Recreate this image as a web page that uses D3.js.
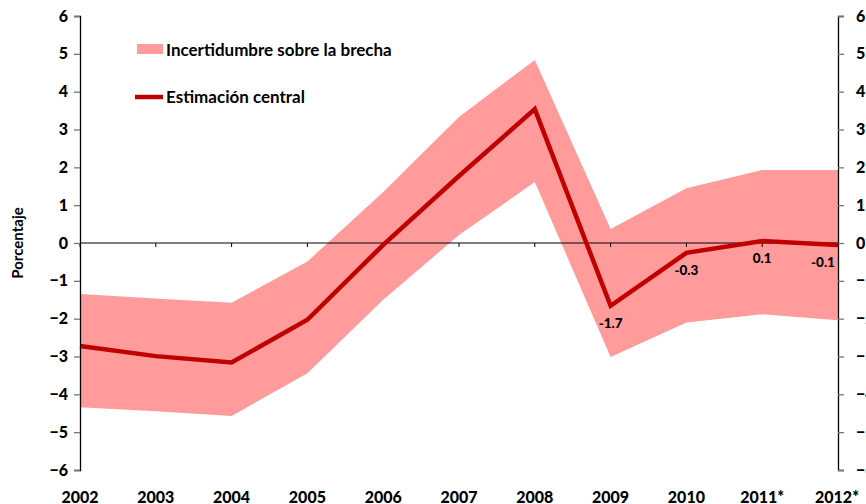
<!DOCTYPE html>
<html><head><meta charset="utf-8">
<script src="https://cdn.jsdelivr.net/npm/d3@7"></script>
<style>body{margin:0;background:#fff}svg{display:block}text{font-family:Lato,"Open Sans",sans-serif;font-weight:bold;fill:#000}</style>
</head><body><svg id="c" width="866" height="504"></svg>
<script>
const years = ["2002","2003","2004","2005","2006","2007","2008","2009","2010","2011*","2012*"];
const central = [-2.72,-2.99,-3.16,-2.03,-0.05,1.77,3.54,-1.66,-0.26,0.05,-0.05];
const upper = [-1.35,-1.47,-1.58,-0.49,1.35,3.33,4.84,0.37,1.45,1.93,1.93];
const lower = [-4.34,-4.45,-4.57,-3.44,-1.50,0.21,1.61,-3.01,-2.10,-1.88,-2.04];
const labelIdx = [7,8,9,10];
const labelText = ["-1.7","-0.3","0.1","-0.1"];
const yTicks = [-6,-5,-4,-3,-2,-1,0,1,2,3,4,5,6];

const svg = d3.select("#c");
const L=80, R=838, T=16, B=470;
const x = d3.scalePoint().domain(years).range([L,R]);
const y = d3.scaleLinear().domain([-6,6]).range([B,T]);

// band
const area = d3.area().x((d,i)=>x(years[i])).y0((d,i)=>y(lower[i])).y1((d,i)=>y(upper[i]));
svg.append("path").datum(upper).attr("d",area).attr("fill","#ff9b9b");

// zero line
svg.append("line").attr("x1",L).attr("x2",R).attr("y1",y(0)).attr("y2",y(0)).attr("stroke","#000").attr("stroke-width",1);
svg.append("g").selectAll("line").data(years).join("line")
  .attr("x1",d=>x(d)).attr("x2",d=>x(d)).attr("y1",y(0)).attr("y2",y(0)+4).attr("stroke","#000");

// central line
const line = d3.line().x((d,i)=>x(years[i])).y(d=>y(d));
svg.append("path").datum(central).attr("d",line).attr("fill","none").attr("stroke","#c00000").attr("stroke-width",4.5).attr("stroke-linejoin","miter");

// axes
const gl = svg.append("g").attr("transform",`translate(${L},0)`).call(d3.axisLeft(y).tickValues(yTicks).tickSize(6).tickPadding(8).tickFormat(d3.format("d")));
const gr = svg.append("g").attr("transform",`translate(${R},0)`).call(d3.axisRight(y).tickValues(yTicks).tickSize(6).tickPadding(12).tickFormat(d3.format("d")));
[gl,gr].forEach(g=>{
  g.select(".domain").attr("stroke","#000").attr("stroke-width",1.3);
  g.selectAll(".tick line").attr("stroke","#777").attr("stroke-width",1.3);
  g.selectAll(".tick text").style("font-size","16px").style("font-family","Lato,sans-serif").style("font-weight","900").attr("fill","#000");
});
gl.selectAll(".tick text").attr("x",-12);

// x labels
svg.append("g").selectAll("text").data(years).join("text")
  .attr("x",d=>x(d)+(d==="2012*"?-1:0)).attr("y",503).attr("text-anchor","middle")
  .style("font-size","16px").style("font-weight","900").text(d=>d);

// data labels
svg.append("g").selectAll("text").data(labelIdx).join("text")
  .attr("x",(d,i)=>x(years[d])+(d===10?-15:0)).attr("y",d=>y(central[d])+22)
  .attr("text-anchor","middle").style("font-size","13.5px").style("font-weight","900").text((d,i)=>labelText[i]);

// y title
svg.append("text").attr("transform",`translate(23,${y(0)}) rotate(-90)`).attr("text-anchor","middle")
  .style("font-size","15px").text("Porcentaje");

// legend
svg.append("rect").attr("x",137).attr("y",44).attr("width",26).attr("height",10).attr("fill","#ff9b9b");
svg.append("text").attr("x",166).attr("y",55.5).style("font-size","17px").text("Incertidumbre sobre la brecha");
svg.append("line").attr("x1",135).attr("x2",163).attr("y1",97).attr("y2",97).attr("stroke","#c00000").attr("stroke-width",4.5);
svg.append("text").attr("x",166).attr("y",102.5).style("font-size","17px").text("Estimación central");
</script></body></html>
